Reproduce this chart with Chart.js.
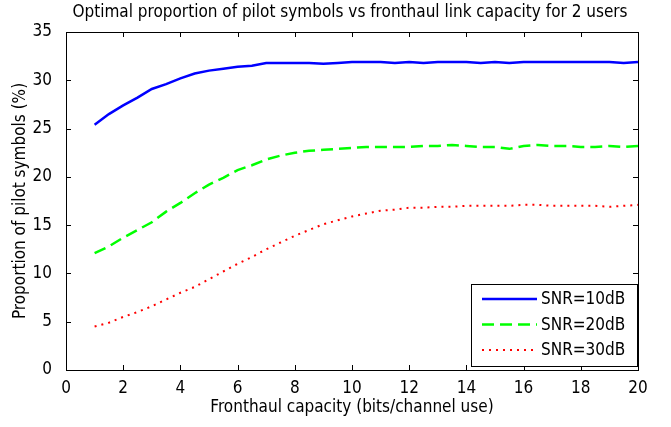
<!DOCTYPE html>
<html>
<head>
<meta charset="utf-8">
<script src="https://cdn.jsdelivr.net/npm/chart.js@4"></script>
<style>
  html, body { margin: 0; padding: 0; background: #fff; }
  #wrap { width: 671px; height: 427px; }
</style>
</head>
<body>
<div id="wrap"><canvas id="grafico"></canvas></div>
<script>
// --- Dados ---
const capacidade = [1, 1.5, 2, 2.5, 3, 3.5, 4, 4.5, 5, 5.5, 6, 6.5, 7, 7.5, 8, 8.5, 9, 9.5, 10, 10.5,
  11, 11.5, 12, 12.5, 13, 13.5, 14, 14.5, 15, 15.5, 16, 16.5, 17, 17.5, 18, 18.5, 19, 19.5, 20];

const snr10 = [25.4, 26.5, 27.4, 28.2, 29.1, 29.6, 30.2, 30.7, 31.0, 31.2, 31.4, 31.5, 31.8, 31.8, 31.8, 31.8, 31.7, 31.8, 31.9, 31.9,
  31.9, 31.8, 31.9, 31.8, 31.9, 31.9, 31.9, 31.8, 31.9, 31.8, 31.9, 31.9, 31.9, 31.9, 31.9, 31.9, 31.9, 31.8, 31.9];

const snr20 = [12.1, 12.8, 13.7, 14.5, 15.3, 16.4, 17.3, 18.3, 19.2, 19.9, 20.7, 21.2, 21.8, 22.2, 22.5, 22.7, 22.8, 22.9, 23.0, 23.1,
  23.1, 23.1, 23.1, 23.2, 23.2, 23.3, 23.2, 23.1, 23.1, 22.9, 23.2, 23.3, 23.2, 23.2, 23.1, 23.1, 23.2, 23.1, 23.2];

const snr30 = [4.5, 4.9, 5.5, 6.0, 6.6, 7.3, 8.0, 8.6, 9.4, 10.2, 11.0, 11.7, 12.5, 13.2, 13.9, 14.5, 15.1, 15.5, 15.9, 16.2,
  16.5, 16.6, 16.8, 16.8, 16.9, 16.9, 17.0, 17.0, 17.0, 17.0, 17.1, 17.1, 17.0, 17.0, 17.0, 17.0, 16.9, 17.0, 17.1];

const rotulos = ["SNR=10dB", "SNR=20dB", "SNR=30dB"];
const titulo = "Optimal proportion of pilot symbols vs fronthaul link capacity for 2 users";

const FONTE = '"Liberation Sans Narrow", "DejaVu Sans Condensed", "Liberation Sans", sans-serif';

function pontos(ys) {
  return capacidade.map((c, i) => ({ x: c, y: ys[i] }));
}

// --- Título, moldura, marcas internas e legenda (estilo MATLAB) ---
const molduraPlugin = {
  id: "moldura",
  afterDraw(chart) {
    const { ctx, chartArea: a, scales } = chart;
    ctx.save();

    // título centrado sobre a área do gráfico
    ctx.fillStyle = "#000";
    ctx.font = "17px " + FONTE;
    ctx.textAlign = "center";
    ctx.textBaseline = "middle";
    ctx.fillText(titulo, (a.left + a.right) / 2 - 2, 13);
    ctx.textAlign = "left";

    ctx.strokeStyle = "#000";
    ctx.lineWidth = 1;
    ctx.strokeRect(a.left + 0.5, a.top + 0.5, a.right - a.left, a.bottom - a.top);

    const len = 5;
    ctx.beginPath();
    scales.x.ticks.forEach(t => {
      const px = Math.round(scales.x.getPixelForValue(t.value)) + 0.5;
      ctx.moveTo(px, a.bottom); ctx.lineTo(px, a.bottom - len);
      ctx.moveTo(px, a.top); ctx.lineTo(px, a.top + len);
    });
    scales.y.ticks.forEach(t => {
      const py = Math.round(scales.y.getPixelForValue(t.value)) + 0.5;
      ctx.moveTo(a.left, py); ctx.lineTo(a.left + len, py);
      ctx.moveTo(a.right, py); ctx.lineTo(a.right - len, py);
    });
    ctx.stroke();

    // legenda
    const lx = 471, ly = 284, lw = 166, lh = 82;
    ctx.fillStyle = "#fff";
    ctx.fillRect(lx, ly, lw, lh);
    ctx.strokeRect(lx + 0.5, ly + 0.5, lw, lh);
    ctx.font = "17px " + FONTE;
    chart.data.datasets.forEach((ds, i) => {
      const y = ly + 15 + i * 25.5;
      ctx.beginPath();
      ctx.strokeStyle = ds.borderColor;
      ctx.lineWidth = ds.borderWidth;
      ctx.setLineDash(ds.borderDash || []);
      ctx.moveTo(lx + 11, y); ctx.lineTo(lx + 66, y);
      ctx.stroke();
      ctx.setLineDash([]);
      ctx.fillStyle = "#000";
      ctx.fillText(ds.label, lx + 70, y + 1);
    });
    ctx.restore();
  }
};

const ctxGrafico = document.getElementById("grafico").getContext("2d");

new Chart(ctxGrafico, {
  type: "line",
  data: {
    datasets: [
      {
        label: rotulos[0],
        data: pontos(snr10),
        borderColor: "#0000ff",
        borderWidth: 2.5,
        pointRadius: 0,
        fill: false,
        tension: 0,
      },
      {
        label: rotulos[1],
        data: pontos(snr20),
        borderColor: "#00ff00",
        borderWidth: 2.5,
        borderDash: [12, 6],
        pointRadius: 0,
        fill: false,
        tension: 0,
      },
      {
        label: rotulos[2],
        data: pontos(snr30),
        borderColor: "#ff0000",
        borderWidth: 2,
        borderDash: [2, 5],
        pointRadius: 0,
        fill: false,
        tension: 0,
      },
    ],
  },
  options: {
    responsive: true,
    maintainAspectRatio: false,
    animation: false,
    layout: { padding: { left: 0, right: 33, top: 32, bottom: 0 } },
    plugins: {
      legend: { display: false },
      tooltip: { enabled: false },
      title: { display: false },
    },
    scales: {
      x: {
        type: "linear",
        min: 0,
        max: 20,
        ticks: { stepSize: 2, color: "#000", padding: 0, font: { family: FONTE, size: 17 } },
        grid: { display: false },
        border: { display: false },
        title: {
          display: true,
          text: "Fronthaul capacity (bits/channel use)",
          color: "#000",
          font: { family: FONTE, size: 17, lineHeight: 1.2 },
          padding: { top: 0, bottom: 9 },
        },
        afterFit: s => { s.height = 57; },
      },
      y: {
        min: 0,
        max: 35,
        ticks: { stepSize: 5, color: "#000", padding: 6, font: { family: FONTE, size: 17 } },
        grid: { display: false },
        border: { display: false },
        title: {
          display: true,
          text: "Proportion of pilot symbols (%)",
          color: "#000",
          font: { family: FONTE, size: 17, lineHeight: 1.2 },
          padding: { top: 10, bottom: 0 },
        },
        afterFit: s => { s.width = 66; },
      },
    },
  },
  plugins: [molduraPlugin],
});
</script>
</body>
</html>
